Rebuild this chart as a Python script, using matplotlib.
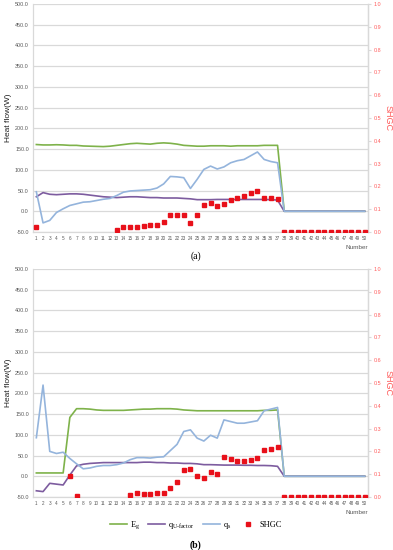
import numpy as np
import matplotlib
matplotlib.use("Agg")
import matplotlib.pyplot as plt
from matplotlib.lines import Line2D

nan = np.nan
numbers = list(range(1, 51))

# ---------------- Panel (a) ----------------
eg_a = [161, 160, 160, 160.5, 160, 159, 159, 157.5, 157, 156.5, 156, 157, 159, 161, 163, 164,
        163, 162, 164, 165, 164, 162, 159, 158, 157, 157, 158, 158, 158, 157, 158, 158, 158,
        158, 159, 159, 159] + [0] * 13
qu_a = [35, 45, 41, 40, 41, 42, 42, 41, 39, 37, 35, 34, 33, 34, 35, 35, 34, 33, 33, 32, 32,
        32, 31, 30, 28, 28, 28, 28.5, 28.5, 28.5, 28.5, 28.5, 28.5, 28.5, 28.5, 28, 27] + [0] * 13
qs_a = [47, -28, -22, -3, 6, 14, 18, 22, 23, 26, 29, 31, 38, 46, 49, 50, 51, 52, 56, 66,
        84, 83, 81, 55, 77, 101, 109, 102, 107, 117, 122, 125, 134, 143, 125, 120, 117] + [0] * 13
shgc_a = [0.02] + [nan] * 11 + [0.01, 0.02, 0.022, 0.022, 0.025, 0.03, 0.032, 0.044, 0.076,
          0.074, 0.076, 0.038, 0.074, 0.118, 0.128, 0.115, 0.123, 0.141, 0.148, 0.156, 0.17,
          0.181, 0.151, 0.148, 0.143] + [0.0] * 13

# ---------------- Panel (b) ----------------
eg_b = [8, 8, 8, 8, 8, 142, 163, 163, 162, 160, 159, 159, 159, 159, 160, 161, 162, 162, 163,
        163, 163, 162, 160, 159, 158, 158, 158, 158, 158, 158, 158, 158, 158, 158, 159, 159,
        160] + [0] * 13
qu_b = [-35, -37, -17, -19, -21, 3, 25, 29, 31, 32, 33, 33, 33, 33, 33, 33, 34, 34, 33, 33,
        32, 32, 31, 31, 30, 28, 28, 27.5, 27, 27, 27, 26.5, 26.5, 26, 26, 25.5, 24] + [0] * 13
qs_b = [93, 220, 60, 55, 58, 43, 30, 18, 20, 24, 26, 26, 28, 32, 40, 45, 45, 44, 46, 47, 62,
        77, 108, 112, 92, 85, 99, 92, 136, 132, 128, 128, 131, 134, 158, 162, 166] + [0] * 13
shgc_b = [nan] * 5 + [0.094, 0.005] + [nan] * 7 + [0.009, 0.016, 0.013, 0.013, 0.018, 0.018,
          0.038, 0.064, 0.118, 0.124, 0.092, 0.085, 0.11, 0.103, 0.174, 0.167, 0.16, 0.16,
          0.163, 0.169, 0.207, 0.212, 0.219] + [0.0] * 13

left_ticks = np.arange(-50, 501, 50)
right_ticks = np.arange(0, 1.01, 0.1)

C_G = "#7eb24a"
C_P = "#7d5c9f"
C_B = "#94b4dc"
C_R = "#e8101a"
C_RT = "#ff5a5a"
C_TXT = "#595959"
GRID = "#d9d9d9"

plt.rcParams["font.family"] = ["Liberation Sans", "DejaVu Sans"]
plt.rcParams["mathtext.fontset"] = "custom"
plt.rcParams["mathtext.rm"] = "Liberation Serif"
plt.rcParams["mathtext.it"] = "Liberation Serif"

fig = plt.figure(figsize=(3.93, 5.50), dpi=100)

W, H = 393, 550
def rect(x0, y0, x1, y1):
    return [x0 / W, 1 - y1 / H, (x1 - x0) / W, (y1 - y0) / H]

def panel(r, eg, qu, qs, shgc):
    ax = fig.add_axes(r)
    x = np.array(numbers)
    ax.plot(x, eg, color=C_G, lw=1.2, zorder=3)
    ax.plot(x, qu, color=C_P, lw=1.2, zorder=3)
    ax.plot(x, qs, color=C_B, lw=1.2, zorder=4)
    ax.set_xlim(0.5, 50.5)
    ax.set_ylim(-50, 500)
    ax.set_yticks(left_ticks)
    ax.set_yticklabels([f"{v:.1f}" for v in left_ticks], fontsize=3.9, color=C_TXT)
    ax.set_xticks(x)
    ax.set_xticklabels([str(n) for n in numbers], fontsize=3.3, color=C_TXT)
    ax.tick_params(axis="both", length=0, pad=3)
    ax.tick_params(axis="x", pad=3)
    ax.grid(axis="y", color=GRID, lw=0.9)
    ax.set_axisbelow(True)
    ax.spines["top"].set_visible(False)
    for s in ["left", "right", "bottom"]:
        ax.spines[s].set_color(GRID)
        ax.spines[s].set_linewidth(0.9)
    ax.set_ylabel("Heat flow(W)", fontsize=6.0, color="#222222")
    ax.yaxis.set_label_coords(-21 / 335, 0.5)

    ax2 = ax.twinx()
    ax2.plot(x, shgc, ls="none", marker="s", ms=2.8, color=C_R, mec=C_R, zorder=5)
    ax2.set_ylim(0, 1.0)
    ax2.set_yticks(right_ticks)
    ax2.set_yticklabels([f"{v:.1f}" for v in right_ticks], fontsize=3.9, color=C_RT)
    ax2.tick_params(axis="y", length=2, color=GRID, pad=2)
    for s in ["top", "left", "bottom"]:
        ax2.spines[s].set_visible(False)
    ax2.spines["right"].set_color(GRID)
    ax2.spines["right"].set_linewidth(0.9)
    ax2.text(1 + 20 / 335, 0.5, "SHGC", transform=ax2.transAxes, rotation=270,
             ha="center", va="center", fontsize=6.5, color=C_RT)
    ax.text(1.0, -0.055, "Number", transform=ax.transAxes, ha="right", va="top",
            fontsize=4.6, color=C_TXT)
    return ax

panel(rect(33, 4, 368, 232), eg_a, qu_a, qs_a, shgc_a)
panel(rect(33, 269, 368, 497), eg_b, qu_b, qs_b, shgc_b)

fig.text(196 / W, 1 - 256 / H, "(a)", ha="center", va="center", fontsize=7,
         family="Liberation Serif")
fig.text(196 / W, 1 - 545 / H, "(b)", ha="center", va="center", fontsize=7,
         family="Liberation Serif", weight="bold")

handles = [Line2D([], [], color=C_G, lw=1.2),
           Line2D([], [], color=C_P, lw=1.2),
           Line2D([], [], color=C_B, lw=1.2),
           Line2D([], [], ls="none", marker="s", ms=3.5, color=C_R)]
labels = [r"E$_\mathrm{g}$", r"q$_\mathrm{U\text{-}factor}$", r"q$_\mathrm{s}$", "SHGC"]
fig.legend(handles, labels, loc="center", bbox_to_anchor=(196 / W, 1 - 525 / H), ncol=4,
           frameon=False, prop={"family": "Liberation Serif", "size": 6.0},
           handlelength=2.0, columnspacing=1.0, handletextpad=0.4)

fig.savefig("out.png", dpi=100)
